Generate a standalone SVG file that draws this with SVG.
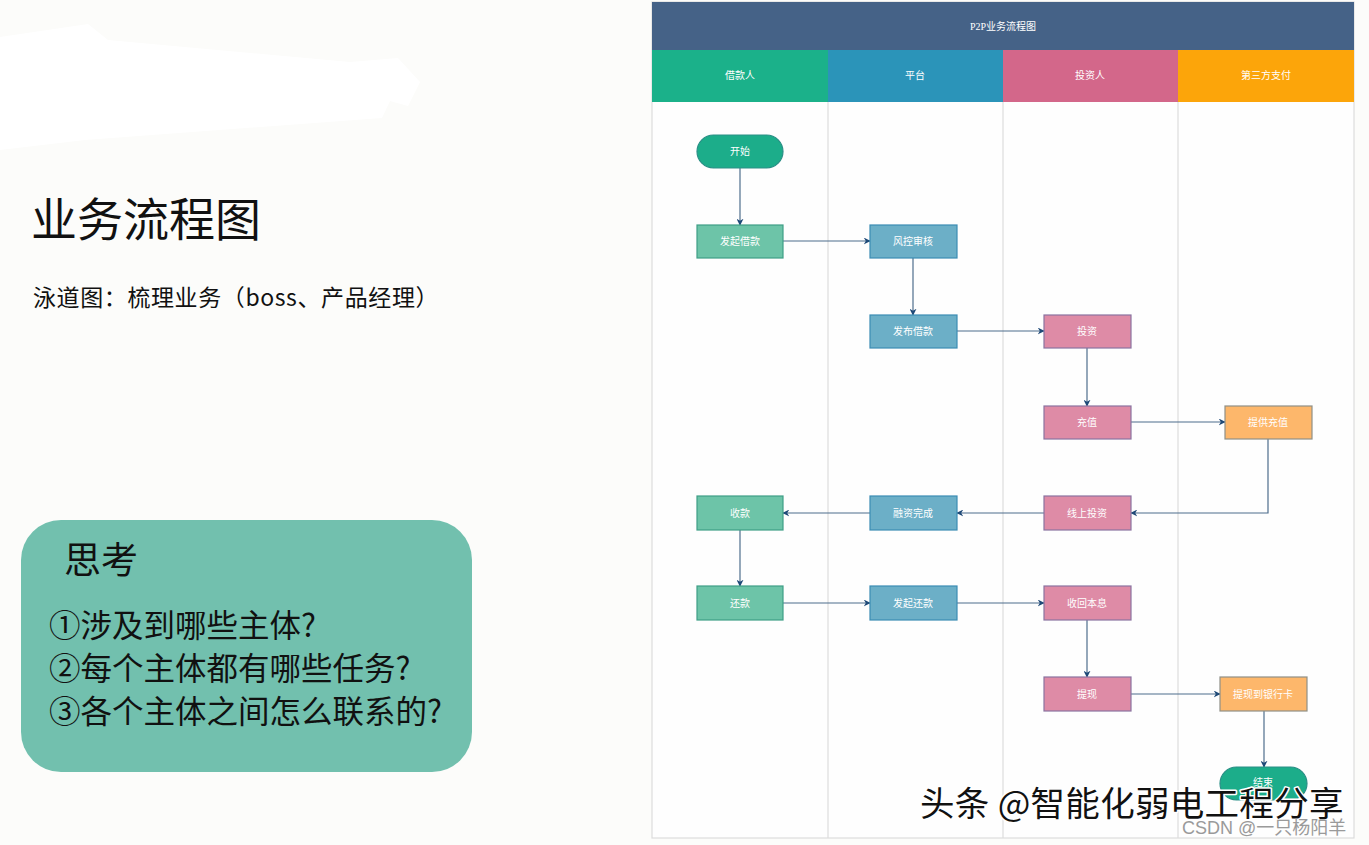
<svg xmlns="http://www.w3.org/2000/svg" width="1369" height="845" viewBox="0 0 1369 845">
<defs>
<style>
.bg{fill:#fcfcfa}
.cjk{font-family:"Noto Sans CJK SC","Noto Sans",sans-serif}
.lbl{font-family:"Liberation Serif","Noto Sans CJK SC",serif;fill:#fff;font-size:10px;text-anchor:middle;dominant-baseline:central}
.hdr{font-family:"Liberation Serif","Noto Sans CJK SC",serif;fill:#fff;font-size:10px;text-anchor:middle;dominant-baseline:central}
.lane{fill:none;stroke:#dcdcdc;stroke-width:1.2}
.g{fill:#6dc4a8;stroke:#3f9e86;stroke-width:1.2}
.b{fill:#6cafc7;stroke:#3b8cb3;stroke-width:1.2}
.p{fill:#de8ba6;stroke:#8a73a0;stroke-width:1.2}
.o{fill:#fdb76b;stroke:#8f8f86;stroke-width:1.2}
.t{fill:#1cad8a;stroke:#2a8f86;stroke-width:1.2}
.e{fill:none;stroke:#4d6d8c;stroke-width:1.2}
.q{font-family:"Noto Sans CJK SC","Noto Sans",sans-serif;font-size:31.5px;fill:#111}
</style>
<marker id="ar" viewBox="0 0 10 10" refX="9" refY="5" markerWidth="7" markerHeight="7" markerUnits="userSpaceOnUse" orient="auto">
<path d="M0,0 L10,5 L0,10 L3,5 Z" fill="#1f4a78"/>
</marker>
</defs>
<rect class="bg" x="0" y="0" width="1369" height="845"/>
<path d="M0,37 L88,24 L108,40 L350,62 L398,58 L420,82 L408,106 L390,101 L382,118 L85,140 L0,150 Z" fill="#ffffff"/>

<!-- left side texts -->
<text class="cjk" x="31" y="236" font-size="46" fill="#111">业务流程图</text>
<text class="cjk" x="33" y="306" font-size="23" letter-spacing="0.6" fill="#111">泳道图：梳理业务（boss、产品经理）</text>

<g id="think">
<rect x="21" y="520" width="451" height="252" rx="40" ry="40" fill="#72c0ae"/>
<text class="cjk" x="64" y="574" font-size="37" fill="#111">思考</text>
<text class="q" x="49" y="637">①涉及到哪些主体?</text>
<text class="q" x="49" y="680">②每个主体都有哪些任务?</text>
<text class="q" x="49" y="723">③各个主体之间怎么联系的?</text>
</g>

<!-- swimlane frame -->
<g id="pool">
<rect x="652" y="2" width="702" height="836" fill="#fefefe" stroke="#dcdcdc" stroke-width="1.2"/>
<rect x="652" y="2" width="702" height="48" fill="#456287"/>
<text class="hdr" x="1003" y="26" font-size="13.5">P2P业务流程图</text>
</g>
<g id="lane-borrower">
<rect x="652" y="50" width="176" height="52" fill="#1bb18a"/>
<text class="hdr" x="740" y="75">借款人</text>
</g>
<g id="lane-platform">
<rect x="828" y="50" width="175" height="52" fill="#2b94b9"/>
<text class="hdr" x="915" y="75">平台</text>
</g>
<g id="lane-investor">
<rect x="1003" y="50" width="175" height="52" fill="#d3678a"/>
<text class="hdr" x="1090" y="75">投资人</text>
</g>
<g id="lane-payment">
<rect x="1178" y="50" width="176" height="52" fill="#fca50a"/>
<text class="hdr" x="1266" y="75">第三方支付</text>
</g>
<g id="lane-lines">
<line class="lane" x1="828" y1="102" x2="828" y2="838"/>
<line class="lane" x1="1003" y1="102" x2="1003" y2="838"/>
<line class="lane" x1="1178" y1="102" x2="1178" y2="838"/>
</g>

<!-- connectors -->
<g id="connectors">
<line class="e" x1="740" y1="168" x2="740" y2="225" marker-end="url(#ar)"/>
<line class="e" x1="783" y1="241" x2="870" y2="241" marker-end="url(#ar)"/>
<line class="e" x1="913" y1="258" x2="913" y2="315" marker-end="url(#ar)"/>
<line class="e" x1="957" y1="331" x2="1044" y2="331" marker-end="url(#ar)"/>
<line class="e" x1="1087" y1="348" x2="1087" y2="406" marker-end="url(#ar)"/>
<line class="e" x1="1131" y1="422" x2="1225" y2="422" marker-end="url(#ar)"/>
<polyline class="e" points="1268,439 1268,513 1131,513" marker-end="url(#ar)"/>
<line class="e" x1="1044" y1="513" x2="957" y2="513" marker-end="url(#ar)"/>
<line class="e" x1="870" y1="513" x2="783" y2="513" marker-end="url(#ar)"/>
<line class="e" x1="740" y1="530" x2="740" y2="586" marker-end="url(#ar)"/>
<line class="e" x1="783" y1="603" x2="870" y2="603" marker-end="url(#ar)"/>
<line class="e" x1="957" y1="603" x2="1044" y2="603" marker-end="url(#ar)"/>
<line class="e" x1="1087" y1="620" x2="1087" y2="677" marker-end="url(#ar)"/>
<line class="e" x1="1131" y1="694" x2="1220" y2="694" marker-end="url(#ar)"/>
<line class="e" x1="1264" y1="711" x2="1264" y2="767" marker-end="url(#ar)"/>
</g>

<!-- nodes -->
<g id="n-start"><rect class="t" x="697" y="135" width="86" height="33" rx="16.5"/><text class="lbl" x="740" y="151.5">开始</text></g>
<g id="n-faqijiekuan"><rect class="g" x="697" y="225" width="86" height="33"/><text class="lbl" x="740" y="241.5">发起借款</text></g>
<g id="n-fengkong"><rect class="b" x="870" y="225" width="87" height="33"/><text class="lbl" x="913" y="241.5">风控审核</text></g>
<g id="n-fabu"><rect class="b" x="870" y="315" width="87" height="33"/><text class="lbl" x="913" y="331.5">发布借款</text></g>
<g id="n-touzi"><rect class="p" x="1044" y="315" width="87" height="33"/><text class="lbl" x="1087" y="331.5">投资</text></g>
<g id="n-chongzhi"><rect class="p" x="1044" y="406" width="87" height="33"/><text class="lbl" x="1087" y="422.5">充值</text></g>
<g id="n-tigong"><rect class="o" x="1225" y="406" width="87" height="33"/><text class="lbl" x="1268" y="422.5">提供充值</text></g>
<g id="n-xianshang"><rect class="p" x="1044" y="496" width="87" height="34"/><text class="lbl" x="1087" y="513">线上投资</text></g>
<g id="n-rongzi"><rect class="b" x="870" y="496" width="87" height="34"/><text class="lbl" x="913" y="513">融资完成</text></g>
<g id="n-shoukuan"><rect class="g" x="697" y="496" width="86" height="34"/><text class="lbl" x="740" y="513">收款</text></g>
<g id="n-huankuan"><rect class="g" x="697" y="586" width="86" height="34"/><text class="lbl" x="740" y="603">还款</text></g>
<g id="n-faqihuankuan"><rect class="b" x="870" y="586" width="87" height="34"/><text class="lbl" x="913" y="603">发起还款</text></g>
<g id="n-shouhui"><rect class="p" x="1044" y="586" width="87" height="34"/><text class="lbl" x="1087" y="603">收回本息</text></g>
<g id="n-tixian"><rect class="p" x="1044" y="677" width="87" height="34"/><text class="lbl" x="1087" y="694">提现</text></g>
<g id="n-yinhangka"><rect class="o" x="1220" y="677" width="87" height="34"/><text class="lbl" x="1263" y="694">提现到银行卡</text></g>
<g id="n-end"><rect class="t" x="1220" y="767" width="87" height="33" rx="16.5"/><text class="lbl" x="1263" y="782">结束</text></g>

<!-- watermarks -->
<text class="cjk" x="920" y="816" font-size="34.5" letter-spacing="0.3" fill="#111" stroke="#ffffff" stroke-width="3" paint-order="stroke" stroke-linejoin="round">头条 @智能化弱电工程分享</text>
<text x="1182" y="834" font-family="Liberation Sans,'Noto Sans CJK SC',sans-serif" font-size="18" fill="#9a9a9a">CSDN @一只杨阳羊</text>
</svg>
